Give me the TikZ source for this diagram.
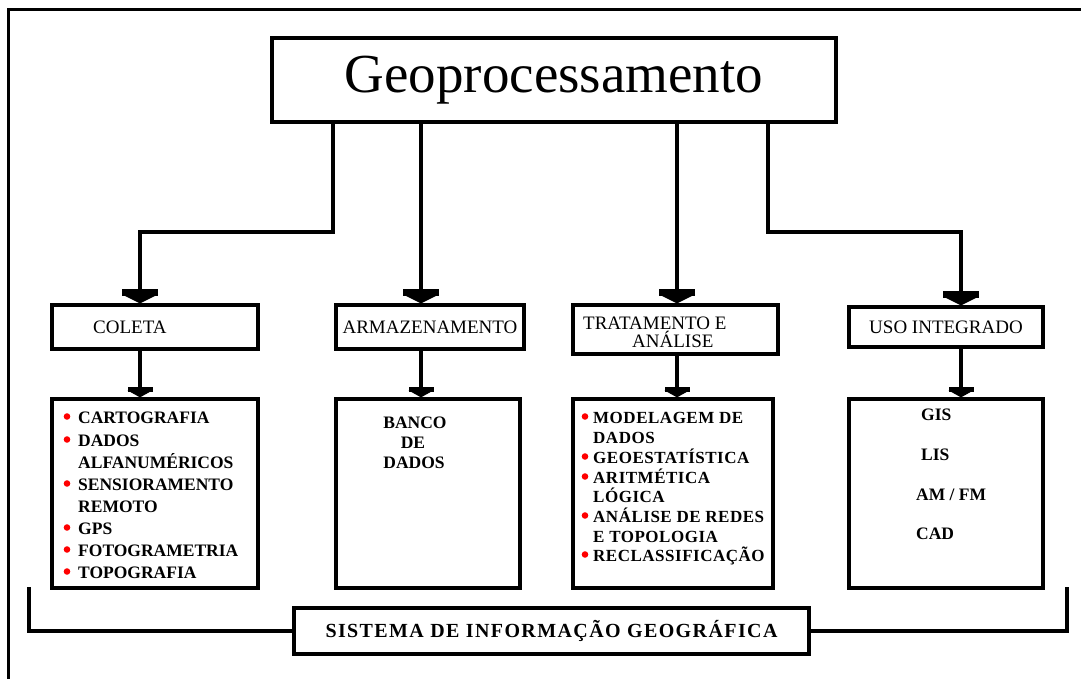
\documentclass[tikz,border=0pt]{standalone}
\usepackage{fontspec}
\setmainfont{Liberation Serif}
\newfontfamily\trackedfont[LetterSpace=3]{Liberation Serif}
\newfontfamily\widefont[LetterSpace=7]{Liberation Serif}
\usetikzlibrary{arrows.meta,positioning}

\begin{document}
\begin{tikzpicture}[x=1pt,y=-1pt,
    box/.style={draw, line width=3.2pt, inner sep=0pt},
    link/.style={line width=3.2pt},
    bigtip/.style={-{Rectangle[length=7pt,width=36pt,line width=0pt,sep=-1.5pt]Triangle[length=9pt,width=36pt,line width=0pt]}},
    smalltip/.style={-{Rectangle[length=5pt,width=25pt,line width=0pt,sep=-1.5pt]Triangle[length=7pt,width=25pt,line width=0pt]}},
    stagetext/.style={inner sep=0pt, font=\fontsize{19pt}{18pt}\selectfont},
    itemtext/.style={inner sep=0pt, anchor=base west, font=\fontsize{17.5pt}{20pt}\selectfont\bfseries},
    reddot/.style={fill=red}]
          \useasboundingbox (0,0) rectangle (1081,679);
          \draw[line width=3.2pt] (8.5,679) -- (8.5,9.5) -- (1081,9.5);

          \node[box, minimum width=564pt, minimum height=84pt, font=\fontsize{55pt}{60pt}\selectfont] (geo) at (554,80) {Geoprocessamento};

          \node[box, minimum width=206pt, minimum height=44pt] (coleta) at (155,327) {};
          \node[box, minimum width=188pt, minimum height=44pt, stagetext] (armaz) at (430,327) {ARMAZENAMENTO};
          \node[box, minimum width=205pt, minimum height=49pt] (trat) at (675.5,329.5) {};
          \node[box, minimum width=194pt, minimum height=40pt, stagetext] (uso) at (946,327) {USO INTEGRADO};
          \node[stagetext, anchor=base west] (coletatxt) at (93,333) {COLETA};
          \node[stagetext, anchor=base west] (trattxt1) at (583,329) {TRATAMENTO E};
          \node[stagetext, anchor=base west] (trattxt2) at (632,347) {ANÁLISE};

          \node[box, minimum width=206pt, minimum height=189pt] (coletabox) at (155,493.5) {};
          \node[box, minimum width=184pt, minimum height=189pt] (banco) at (428,493.5) {};
          \node[box, minimum width=200pt, minimum height=189pt] (tratbox) at (673,493.5) {};
          \node[box, minimum width=194pt, minimum height=189pt] (usobox) at (946,493.5) {};

          \node[box, minimum width=515pt, minimum height=46pt, font=\widefont\fontsize{20pt}{22pt}\selectfont\bfseries] (sig) at (551.5,631) {SISTEMA DE INFORMAÇÃO GEOGRÁFICA};

          % ligacoes
          \coordinate (k1) at (333,232);
          \coordinate (k2) at (140,232);
          \coordinate (k3) at (768,232);
          \coordinate (k4) at (961,232);
          \coordinate (k5) at (421,232);
          \coordinate (k6) at (677,232);
          \draw[link, bigtip] (geo.south -| k1) -- (k1) -- (k2) -- (coleta.north -| k2);
          \draw[link, bigtip] (geo.south -| k5) -- (armaz.north -| k5);
          \draw[link, bigtip] (geo.south -| k6) -- (trat.north -| k6);
          \draw[link, bigtip] (geo.south -| k3) -- (k3) -- (k4) -- (uso.north -| k4);

          \draw[link, smalltip] (coleta.south -| k2) -- (coletabox.north -| k2);
          \draw[link, smalltip] (armaz.south -| k5) -- (banco.north -| k5);
          \draw[link, smalltip] (trat.south -| k6) -- (tratbox.north -| k6);
          \draw[link, smalltip] (uso.south -| k4) -- (usobox.north -| k4);

          \coordinate (b1) at (29,587);
          \coordinate (b2) at (1067,587);
          \draw[link] (b1) |- (sig.west);
          \draw[link] (b2) |- (sig.east);

          % listas
          \foreach \y/\t [count=\i] in {423/CARTOGRAFIA, 446/DADOS, 468/ALFANUMÉRICOS, 490/SENSIORAMENTO, 512/REMOTO, 534/GPS, 556/FOTOGRAMETRIA, 578/TOPOGRAFIA}
            \node[itemtext] (col\i) at (78,\y) {\t};
          \foreach \y in {416.5,439.5,483.5,527.5,549.5,571.5}
            \fill[reddot] (67,\y) circle (3.3pt);

          \node[itemtext, anchor=base] (bd1) at (415,428) {BANCO};
          \node[itemtext, anchor=base] (bd2) at (413,448) {DE};
          \node[itemtext, anchor=base] (bd3) at (414,468) {DADOS};

          \foreach \y/\t [count=\i] in {423/MODELAGEM DE, 443/DADOS, 463/GEOESTATÍSTICA, 483/ARITMÉTICA, 502/LÓGICA, 522/ANÁLISE DE REDES, 542/E TOPOLOGIA, 561/RECLASSIFICAÇÃO}
            \node[itemtext, font=\trackedfont\fontsize{17pt}{20pt}\selectfont\bfseries] (trt\i) at (593,\y) {\t};
          \foreach \y in {416.5,456.5,476.5,515.5,554.5}
            \fill[reddot] (585,\y) circle (3.3pt);

          \node[itemtext] (gis) at (921,420) {GIS};
          \node[itemtext] (lis) at (921,460) {LIS};
          \node[itemtext] (amfm) at (916,500) {AM / FM};
          \node[itemtext] (cad) at (916,539) {CAD};
        \end{tikzpicture}
\end{document}
